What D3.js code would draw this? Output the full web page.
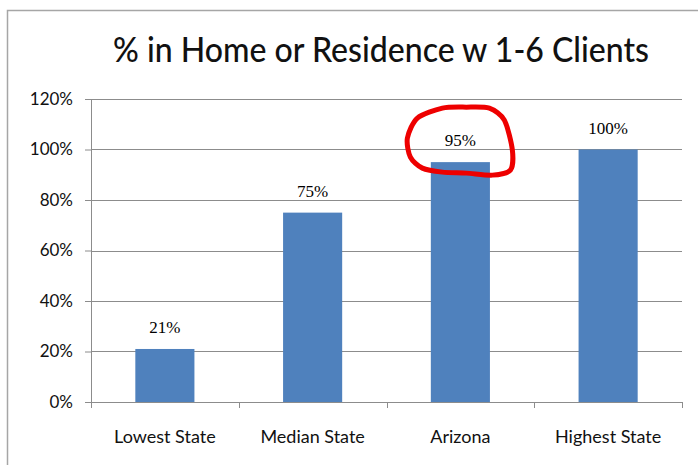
<!DOCTYPE html>
<html>
<head>
<meta charset="utf-8">
<script src="https://cdn.jsdelivr.net/npm/d3@7"></script>
<style>
  body { margin: 0; background: #fff; }
  svg { display: block; }
  .axis text { font-family: Lato, "Open Sans", sans-serif; fill: #111; }
</style>
</head>
<body>
<svg id="chart" width="698" height="465"></svg>
<script>
// data
var categories = ["Lowest State", "Median State", "Arizona", "Highest State"];
var values = [0.21, 0.75, 0.95, 1.00];
var yTicks = [0, 0.2, 0.4, 0.6, 0.8, 1.0, 1.2];
var title = "% in Home or Residence w 1-6 Clients";
var highlight = "Arizona";

var data = categories.map(function(c, i) { return {cat: c, value: values[i]}; });

var svg = d3.select("#chart");

// chart frame (runs off the right and bottom of the picture)
svg.append("rect")
    .attr("x", 7.5).attr("y", 10.5)
    .attr("width", 900).attr("height", 700)
    .attr("fill", "#fff")
    .attr("stroke", "#a6a6a6")
    .attr("stroke-width", 1.5);

var margin = {top: 99, left: 91};
var width = 591, height = 303;
var g = svg.append("g").attr("transform", "translate(" + margin.left + "," + margin.top + ")");

var x = d3.scaleBand()
    .domain(categories)
    .range([0, width])
    .paddingInner(0.6)
    .paddingOuter(0.3);

var y = d3.scaleLinear()
    .domain([0, 1.2])
    .range([height, 0]);

// title
svg.append("text")
    .attr("x", 381)
    .attr("y", 62)
    .attr("text-anchor", "middle")
    .style("font-family", "Lato, 'Open Sans', sans-serif")
    .style("font-size", "34px")
    .style("font-weight", 500)
    .attr("fill", "#111")
    .attr("textLength", 536)
    .attr("lengthAdjust", "spacingAndGlyphs")
    .text(title);

// gridlines + y axis
g.append("g")
    .attr("class", "grid")
    .selectAll("line")
    .data(yTicks.slice(1))
    .enter().append("line")
      .attr("x1", 0).attr("x2", width)
      .attr("y1", function(d) { return Math.round(y(d)) + 0.5; })
      .attr("y2", function(d) { return Math.round(y(d)) + 0.5; })
      .attr("stroke", "#8c8c8c")
      .attr("stroke-width", 1);

var yAxis = g.append("g")
    .attr("class", "axis axis--y")
    .call(d3.axisLeft(y).tickValues(yTicks).tickSize(6).tickPadding(12).tickFormat(d3.format(".0%")));
yAxis.selectAll("text").style("font-size", "17px");
yAxis.selectAll("line, path").attr("stroke", "#8c8c8c");
yAxis.select(".domain").attr("d", "M0.5,0V" + height);

// bars
g.selectAll(".bar")
  .data(data)
  .enter().append("rect")
    .attr("class", "bar")
    .attr("x", function(d) { return x(d.cat); })
    .attr("y", function(d) { return y(d.value); })
    .attr("width", x.bandwidth())
    .attr("height", function(d) { return y(0) - y(d.value); })
    .attr("fill", "#4f81bd");

// value labels
g.selectAll(".label")
  .data(data)
  .enter().append("text")
    .attr("class", "label")
    .attr("x", function(d) { return x(d.cat) + x.bandwidth() / 2; })
    .attr("y", function(d) { return y(d.value) - 16; })
    .attr("text-anchor", "middle")
    .style("font-family", "'Liberation Serif', 'DejaVu Serif', serif")
    .style("font-size", "17px")
    .text(function(d) { return d3.format(".0%")(d.value); });

// x axis: ticks at category boundaries
var xAxis = g.append("g")
    .attr("class", "axis axis--x")
    .attr("transform", "translate(0," + height + ")");
xAxis.append("line")
    .attr("x1", 0).attr("x2", width)
    .attr("y1", 0.5).attr("y2", 0.5)
    .attr("stroke", "#8c8c8c");
xAxis.selectAll(".tick")
  .data(d3.range(categories.length + 1))
  .enter().append("line")
    .attr("x1", function(i) { return Math.round(i * width / categories.length) + 0.5; })
    .attr("x2", function(i) { return Math.round(i * width / categories.length) + 0.5; })
    .attr("y1", 0).attr("y2", 6)
    .attr("stroke", "#8c8c8c");
xAxis.selectAll(".cat")
  .data(categories)
  .enter().append("text")
    .attr("x", function(d) { return x(d) + x.bandwidth() / 2; })
    .attr("y", 41)
    .attr("text-anchor", "middle")
    .style("font-size", "18px")
    .text(function(d) { return d; });

// hand-drawn red loop around the highlighted label
var cx = x(highlight) + x.bandwidth() / 2;
var cy = y(values[categories.indexOf(highlight)]);
var loop = [[-53, -24], [-43, -44], [-18, -54], [6, -55], [29, -54], [44, -42],
            [52, -12], [50, 8], [32, 13], [6, 11], [-18, 10], [-38, 6], [-50, -5]];
g.append("path")
    .datum(loop)
    .attr("fill", "none")
    .attr("stroke", "#ee0000")
    .attr("stroke-width", 5)
    .attr("stroke-linejoin", "round")
    .attr("d", d3.line()
        .x(function(p) { return cx + p[0]; })
        .y(function(p) { return cy + p[1]; })
        .curve(d3.curveCardinalClosed.tension(0.2)));
</script>
</body>
</html>
